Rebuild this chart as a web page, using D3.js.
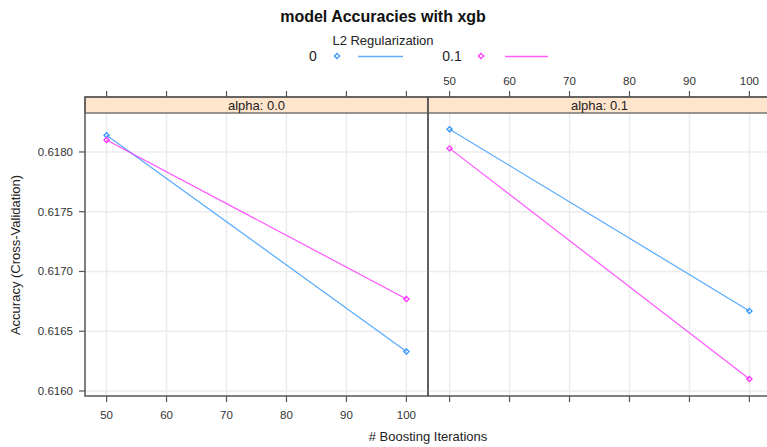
<!DOCTYPE html>
<html><head><meta charset="utf-8">
<script src="https://cdn.jsdelivr.net/npm/d3@7"></script>
<style>body{margin:0;background:#fff}svg{display:block;font-family:"Liberation Sans",Arial,sans-serif}</style>
</head><body><svg id="c" width="767" height="447"></svg>
<script>
const panels = ["alpha: 0.0", "alpha: 0.1"];
const iterations = [50, 100];
const groups = ["0", "0.1"];
const colors = ["#2b93ff", "#ff2bff"];
// accuracy[group] at iterations, per panel
const accAlpha0 = [[0.61814, 0.61633], [0.61810, 0.61677]];
const accAlpha01 = [[0.61819, 0.61667], [0.61803, 0.61610]];
const xTicks = [50, 60, 70, 80, 90, 100];
const yTicks = [0.6160, 0.6165, 0.6170, 0.6175, 0.6180];

(function () {
const svg = d3.select("#c");
const panelW = 343, pTop = 113, pBottom = 396, stripTop = 97;
const panelX = [85, 428];
const data = [accAlpha0, accAlpha01];

const y = d3.scaleLinear().domain([0.615958, 0.618326]).range([pBottom, pTop]);
const tc = "#333";
const sym = d3.symbol(d3.symbolSquare, 14)();

svg.append("text").attr("x", 383).attr("y", 22).attr("text-anchor", "middle")
  .attr("font-weight", "bold").attr("font-size", 16).attr("fill", "#111").text("model Accuracies with xgb");
svg.append("text").attr("x", 383).attr("y", 45).attr("text-anchor", "middle")
  .attr("font-size", 13).attr("fill", "#222").text("L2 Regularization");
const legX = [[313, 337, 358, 403], [452, 481, 505, 548]];
groups.forEach((g, i) => {
  const L = legX[i];
  svg.append("text").attr("x", L[0]).attr("y", 61).attr("text-anchor", "middle").attr("font-size", 14).attr("fill", "#222").text(g);
  svg.append("path").attr("d", sym).attr("transform", `translate(${L[1]},56) rotate(45)`)
    .attr("fill", "none").attr("stroke", colors[i]).attr("stroke-width", 1.2);
  svg.append("line").attr("x1", L[2]).attr("x2", L[3]).attr("y1", 56.5).attr("y2", 56.5).attr("stroke", colors[i]).attr("stroke-width", 1.6).attr("opacity", 0.75);
});

panels.forEach((p, pi) => {
  const x0 = panelX[pi];
  const x = d3.scaleLinear().domain([46.4, 103.6]).range([x0, x0 + panelW]);
  const g = svg.append("g");
  g.selectAll(".gx").data(xTicks).join("line").attr("x1", d => x(d)).attr("x2", d => x(d))
    .attr("y1", pTop).attr("y2", pBottom).attr("stroke", "#ececec").attr("stroke-width", 1.5);
  g.selectAll(".gy").data(yTicks).join("line").attr("y1", d => y(d)).attr("y2", d => y(d))
    .attr("x1", x0).attr("x2", x0 + panelW).attr("stroke", "#ececec").attr("stroke-width", 1.5);
  g.append("rect").attr("x", x0).attr("y", stripTop).attr("width", panelW).attr("height", pTop - stripTop)
    .attr("fill", "#ffe5cc").attr("stroke", "#555").attr("stroke-width", 1.2);
  g.append("text").attr("x", x0 + panelW / 2).attr("y", pTop - 3.5).attr("text-anchor", "middle")
    .attr("font-size", 13).attr("fill", "#222").text(p);
  data[pi].forEach((vals, gi) => {
    const pts = iterations.map((it, k) => [x(it), y(vals[k])]);
    g.append("path").attr("d", d3.line()(pts)).attr("fill", "none").attr("stroke", colors[gi]).attr("stroke-width", 1.2).attr("opacity", 0.8);
    pts.forEach(pt => g.append("path").attr("d", sym).attr("transform", `translate(${pt[0]},${pt[1]}) rotate(45)`)
      .attr("fill", "none").attr("stroke", colors[gi]).attr("stroke-width", 1.2));
  });
  g.append("rect").attr("x", x0).attr("y", stripTop).attr("width", panelW).attr("height", pBottom - stripTop)
    .attr("fill", "none").attr("stroke", "#555").attr("stroke-width", 1.5);
  g.selectAll(".tt").data(xTicks).join("line").attr("x1", d => x(d)).attr("x2", d => x(d))
    .attr("y1", stripTop).attr("y2", stripTop - 6).attr("stroke", "#555").attr("stroke-width", 1.2);
  g.selectAll(".tb").data(xTicks).join("line").attr("x1", d => x(d)).attr("x2", d => x(d))
    .attr("y1", pBottom).attr("y2", pBottom + 6).attr("stroke", "#555").attr("stroke-width", 1.2);
  const labY = pi === 0 ? 419 : 85;
  g.selectAll(".tl").data(xTicks).join("text").attr("x", d => x(d)).attr("y", labY).attr("text-anchor", "middle")
    .attr("font-size", 11.5).attr("fill", tc).text(d => d);
});

svg.selectAll(".yt").data(yTicks).join("line").attr("x1", 85).attr("x2", 79).attr("y1", d => y(d)).attr("y2", d => y(d))
  .attr("stroke", "#555").attr("stroke-width", 1.2);
svg.selectAll(".yl").data(yTicks).join("text").attr("x", 73).attr("y", d => y(d) + 4).attr("text-anchor", "end")
  .attr("font-size", 11.5).attr("fill", tc).text(d => d3.format(".4f")(d));
svg.append("text").attr("transform", "translate(20,255) rotate(-90)").attr("text-anchor", "middle")
  .attr("font-size", 13).attr("fill", "#222").text("Accuracy (Cross-Validation)");
svg.append("text").attr("x", 428).attr("y", 441).attr("text-anchor", "middle")
  .attr("font-size", 13).attr("fill", "#222").text("# Boosting Iterations");
})();
</script></body></html>
